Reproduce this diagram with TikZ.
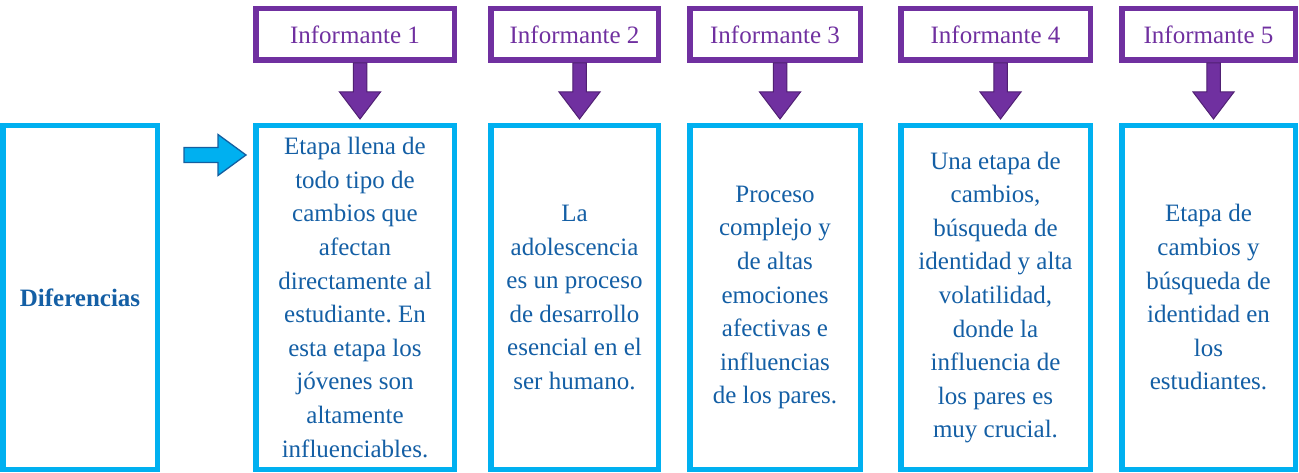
\documentclass[tikz,border=0pt]{standalone}
\usepackage{fontspec}
\setmainfont{Liberation Serif}
\usetikzlibrary{calc}
\frenchspacing
\definecolor{lblue}{RGB}{0,176,240}
\definecolor{tblue}{RGB}{20,95,165}
\definecolor{pur}{RGB}{112,48,160}
\definecolor{dpur}{RGB}{80,32,115}
\definecolor{ablue}{RGB}{20,95,160}
\tikzset{
  infbox/.style={draw=pur, line width=5.5pt, fill=white, inner sep=0pt, text=pur,
     minimum height=51.5pt, font=\fontsize{25}{33.6}\selectfont},
  bodybox/.style={draw=lblue, line width=5.5pt, fill=white, inner sep=0pt, text=tblue,
     minimum height=343.5pt, align=center, font=\fontsize{25}{33.6}\selectfont},
  parrow/.style={fill=pur, draw=dpur, line width=1pt, line join=miter},
  barrow/.style={fill=lblue, draw=ablue, line width=1.3pt, line join=miter},
}
\newcommand{\purarrow}[2]{%
  \path[parrow] let \p1=(#1.south), \p2=(#2.north), \n1={\x1+5pt} in
    (\n1-6.75pt,\y1) -- (\n1+6.75pt,\y1) -- (\n1+6.75pt,\y2+31pt) --
    (\n1+20.5pt,\y2+31pt) -- (\n1,\y2+4pt) -- (\n1-20.5pt,\y2+31pt) --
    (\n1-6.75pt,\y2+31pt) -- cycle;}
\begin{document}
\begin{tikzpicture}[x=1pt,y=-1pt]
\useasboundingbox (0,0) rectangle (1299,473);
% top boxes
\node[infbox, minimum width=198.5pt] (i1) at (355,34.5) {Informante 1};
\node[infbox, minimum width=167.5pt] (i2) at (574.5,34.5) {Informante 2};
\node[infbox, minimum width=170.5pt] (i3) at (775,34.5) {Informante 3};
\node[infbox, minimum width=189.5pt] (i4) at (995.5,34.5) {Informante 4};
\node[infbox, minimum width=173.5pt] (i5) at (1208.5,34.5) {Informante 5};
% left box
\node[bodybox, minimum width=154.5pt, font=\fontsize{25}{33.6}\selectfont\bfseries] (d) at (80,297.5) {Diferencias};
% body boxes
\node[bodybox, minimum width=198.5pt] (b1) at (355,297.5) {Etapa llena de\\todo tipo de\\cambios que\\afectan\\directamente al\\estudiante. En\\esta etapa los\\jóvenes son\\altamente\\influenciables.};
\node[bodybox, minimum width=167.5pt] (b2) at (574.5,297.5) {La\\adolescencia\\es un proceso\\de desarrollo\\esencial en el\\ser humano.};
\node[bodybox, minimum width=170.5pt] (b3) at (775,297.5) {Proceso\\complejo y\\de altas\\emociones\\afectivas e\\influencias\\de los pares.};
\node[bodybox, minimum width=189.5pt] (b4) at (995.5,297.5) {Una etapa de\\cambios,\\búsqueda de\\identidad y alta\\volatilidad,\\donde la\\influencia de\\los pares es\\muy crucial.};
\node[bodybox, minimum width=173.5pt] (b5) at (1208.5,297.5) {Etapa de\\cambios y\\búsqueda de\\identidad en\\los\\estudiantes.};
% purple block arrows
\purarrow{i1}{b1}
\purarrow{i2}{b2}
\purarrow{i3}{b3}
\purarrow{i4}{b4}
\purarrow{i5}{b5}
% blue block arrow
\path[barrow] let \p1=(d.east), \p2=(b1.north west), \n1={\y2-32pt} in
  (\x1+24pt,\n1+7.5pt) -- (\x2-35pt,\n1+7.5pt) -- (\x2-35pt,\n1+20.5pt) --
  (\x2-7pt,\n1) -- (\x2-35pt,\n1-20.5pt) -- (\x2-35pt,\n1-7.5pt) --
  (\x1+24pt,\n1-7.5pt) -- cycle;
\end{tikzpicture}
\end{document}
